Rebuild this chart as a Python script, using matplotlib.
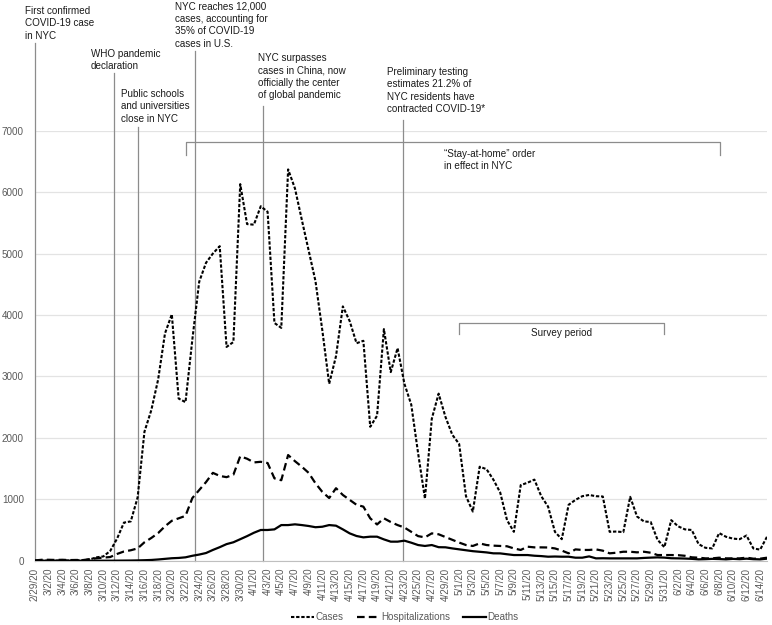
import matplotlib
matplotlib.use("Agg")
import matplotlib.pyplot as plt
import pandas as pd

plt.rcParams['font.family'] = ['Liberation Sans', 'DejaVu Sans']
plt.rcParams['lines.scale_dashes'] = False

# daily counts, 2/29/20 .. 6/15/20
dates = pd.date_range('2020-02-29', '2020-06-15')
date_labels = [f"{d.month}/{d.day}/20" for d in dates]

cases = [1, 0, 1, 2, 5, 3, 8, 7, 21, 55,
         70, 160, 360, 620, 640, 1030, 2100, 2450, 2950, 3700,
         4010, 2640, 2580, 3600, 4540, 4850, 5000, 5120, 3480, 3560,
         6130, 5480, 5470, 5770, 5680, 3870, 3790, 6370, 6060, 5550,
         5050, 4550, 3750, 2880, 3330, 4140, 3900, 3540, 3580, 2180,
         2360, 3770, 3070, 3460, 2880, 2540, 1750, 1010, 2310, 2720,
         2340, 2050, 1900, 1050, 800, 1530, 1490, 1320, 1110, 660,
         470, 1230, 1270, 1320, 1050, 880, 470, 350, 910, 990,
         1050, 1070, 1050, 1045, 470, 475, 465, 1040, 720, 640,
         630, 340, 220, 660, 560, 510, 500, 270, 210, 200,
         450, 390, 360, 350, 410, 200, 180, 390]

hospitalizations = [5, 15, 15, 12, 15, 10, 12, 10, 25, 40,
                    50, 60, 110, 150, 170, 200, 300, 370, 450, 560,
                    650, 690, 730, 1020, 1150, 1280, 1430, 1380, 1360, 1400,
                    1700, 1660, 1600, 1610, 1590, 1340, 1310, 1720, 1620, 1530,
                    1430, 1260, 1120, 1020, 1180, 1070, 990, 910, 880, 690,
                    590, 690, 630, 580, 540, 470, 400, 380, 445, 430,
                    385, 340, 295, 255, 240, 282, 255, 245, 240, 235,
                    200, 175, 228, 217, 217, 215, 200, 165, 120, 184,
                    175, 175, 184, 163, 120, 130, 146, 146, 136, 146,
                    130, 92, 92, 92, 90, 80, 55, 49, 38, 38,
                    49, 38, 38, 38, 49, 33, 33, 49]

deaths = [0, 0, 0, 0, 0, 0, 0, 0, 0, 0,
          0, 0, 1, 2, 3, 5, 8, 12, 20, 30,
          40, 45, 55, 80, 100, 125, 175, 220, 270, 300,
          350, 400, 455, 500, 500, 510, 580, 580, 592, 580,
          565, 545, 553, 580, 570, 510, 445, 402, 380, 391,
          391, 347, 310, 310, 326, 293, 255, 240, 255, 220,
          218, 200, 185, 170, 155, 145, 135, 120, 119, 105,
          92, 92, 92, 81, 75, 65, 68, 65, 65, 49,
          49, 70, 38, 40, 38, 38, 38, 38, 38, 45,
          50, 54, 50, 40, 38, 35, 30, 22, 25, 30,
          27, 22, 30, 25, 33, 25, 22, 33]

# event markers: (day index, top of line, text, text x px, text y px)
events = [
    (0.0, 8430, "First confirmed\nCOVID-19 case\nin NYC", 25, 6),
    (11.55, 7940, "WHO pandemic\ndeclaration", 91, 49),
    (15.05, 7060, "Public schools\nand universities\nclose in NYC", 121, 89),
    (23.4, 8290, "NYC reaches 12,000\ncases, accounting for\n35% of COVID-19\ncases in U.S.", 175, 1.5),
    (33.35, 7400, "NYC surpasses\ncases in China, now\nofficially the center\nof global pandemic", 258, 53),
    (53.75, 7175, "Preliminary testing\nestimates 21.2% of\nNYC residents have\ncontracted COVID-19*", 387, 67),
]

W, H = 772, 625
fig = plt.figure(figsize=(W / 100, H / 100), dpi=100)
ax = fig.add_axes([35 / W, (H - 560.7) / H, (767 - 35) / W, (560.7 - 130.7) / H])

x = list(range(len(dates)))
ax.plot(x, cases, color='black', lw=1.5, dashes=(2.4, 1.3), label='Cases', zorder=3)
ax.plot(x, hospitalizations, color='black', lw=1.6, dashes=(5.5, 3.0), label='Hospitalizations', zorder=3)
ax.plot(x, deaths, color='black', lw=1.6, label='Deaths', zorder=3)

ax.set_xlim(0, len(dates) - 1)
ax.set_ylim(0, 7000)
ax.set_yticks(range(0, 7001, 1000))
ax.set_xticks(x[::2])
ax.set_xticklabels(date_labels[::2], rotation=90, va='top', ha='center')
ax.tick_params(axis='x', length=0, pad=5, labelsize=7.1, labelcolor='#595959')
ax.tick_params(axis='y', length=0, pad=8, labelsize=7.1, labelcolor='#595959')
ax.grid(axis='y', color='#e3e3e3', lw=0.9)
ax.set_axisbelow(True)
for s in ['left', 'right', 'top']:
    ax.spines[s].set_visible(False)
ax.spines['bottom'].set_color('#bfbfbf')

gray = '#8c8c8c'
for xi, top, txt, px, py in events:
    ax.plot([xi, xi], [0, top], color=gray, lw=0.9, clip_on=False, zorder=2)
    fig.text(px / W, 1 - py / H, txt, fontsize=7.1, color='#1a1a1a',
             va='top', ha='left', linespacing=1.3)

# stay-at-home bracket
ax.plot([22.1, 22.1, 100.2, 100.2], [6600, 6815, 6815, 6600], color=gray, lw=0.9,
        clip_on=False, zorder=2)
fig.text(444 / W, 1 - 149 / H, "\u201cStay-at-home\u201d order\nin effect in NYC", fontsize=7.1,
         color='#1a1a1a', va='top', ha='left', linespacing=1.3)

# survey bracket
ax.plot([62, 62, 92, 92], [3690, 3875, 3875, 3690], color=gray, lw=0.9, zorder=2)
ax.text(77, 3712, "Survey period", fontsize=7.1, color='#1a1a1a', ha='center', va='center')

leg = fig.legend(loc='center', bbox_to_anchor=(405 / W, 1 - 617 / H), ncol=3, frameon=False,
                 fontsize=7.1, handlelength=2.3, handletextpad=0.2, columnspacing=1.3)
for t in leg.get_texts():
    t.set_color('#595959')

fig.savefig('out.png', dpi=100)
